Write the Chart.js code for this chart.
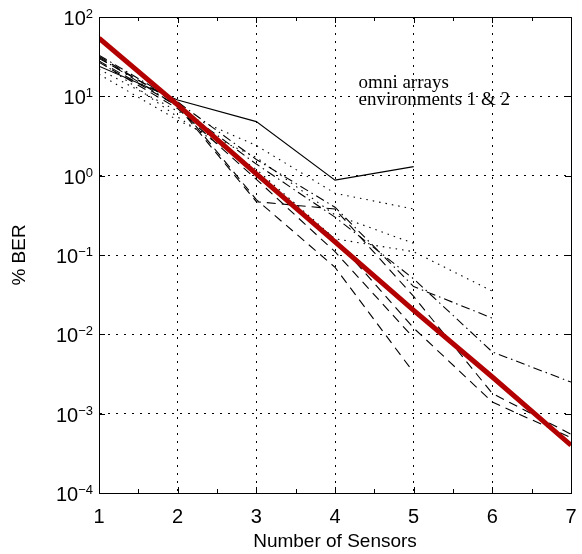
<!DOCTYPE html>
<html>
<head>
<meta charset="utf-8">
<script src="https://cdn.jsdelivr.net/npm/chart.js@4.4.0/dist/chart.umd.min.js"></script>
<style>
  html, body { margin: 0; padding: 0; background: #fff; }
</style>
</head>
<body>
<canvas id="berChart" width="582" height="554"></canvas>
<script>
// number of sensors along the x axis
var sensors = [1, 2, 3, 4, 5, 6, 7];

// decade exponents used for the y ticks (10^-4 .. 10^2)
var yExponents = [-4, -3, -2, -1, 0, 1, 2];

// fitted trend (thick red line)
var fitLine = [54, 7.8, 1.05, 0.146, 0.02, 0.0029, 0.0004];

// measured % BER curves, omni arrays, environments 1 & 2
var curveA = [24, 9, 4.8, 0.88, 1.3, null, null];
var curveB = [22, 6.5, 2.4, 0.6, 0.38, null, null];
var curveC = [19, 5, 1.7, 0.32, 0.14, null, null];
var curveD = [28, 5.5, 1.2, 0.16, 0.11, 0.035, null];
var curveE = [33, 8.5, 1.6, 0.4, 0.04, 0.016, null];
var curveF = [31, 7.5, 1.4, 0.3, 0.05, 0.006, 0.0025];
var curveG = [32, 8, 0.5, 0.07, 0.0033, null, null];
var curveH = [28, 7.5, 0.47, 0.38, 0.03, 0.0018, 0.00055];
var curveI = [30, 8.5, 1.0, 0.16, 0.012, 0.0014, 0.0005];
var curveJ = [27, 7, 0.9, 0.11, 0.009, null, null];

var noteLines = ["omni arrays", "environments 1 & 2"];

// line styles for the black curves (same order as the list below)
var DOT = [1.5, 5], DASH = [9, 6], DASHDOT = [9, 4, 1.5, 4];
var curves = [
    { data: curveA, dash: [] },
    { data: curveB, dash: DOT },
    { data: curveC, dash: DOT },
    { data: curveD, dash: DOT },
    { data: curveE, dash: DASHDOT },
    { data: curveF, dash: DASHDOT },
    { data: curveG, dash: DASH },
    { data: curveH, dash: DASH },
    { data: curveI, dash: DASH },
    { data: curveJ, dash: DASH }
];

function toPoints(values) {
    var pts = [];
    values.forEach(function (v, i) {
        if (v !== null) pts.push({ x: sensors[i], y: v });
    });
    return pts;
}

var datasets = [{
    data: toPoints(fitLine),
    borderColor: "#b30000",
    borderWidth: 5,
    pointRadius: 0,
    borderCapStyle: "butt"
}];
curves.forEach(function (c) {
    datasets.push({
        data: toPoints(c.data),
        borderColor: "#000",
        borderWidth: 1.1,
        borderDash: c.dash,
        pointRadius: 0
    });
});

var SANS = "'Liberation Sans', Arial, sans-serif";

// frame, inward ticks, superscript y labels and the text note
var decorations = {
    id: "decorations",
    afterDraw: function (chart) {
        var ctx = chart.ctx;
        var a = chart.chartArea;
        var xs = chart.scales.x, ys = chart.scales.y;
        ctx.save();
        ctx.strokeStyle = "#000";
        ctx.lineWidth = 1;
        ctx.setLineDash([]);
        ctx.strokeRect(a.left + 0.5, a.top + 0.5, a.right - a.left, a.bottom - a.top);

        ctx.beginPath();
        for (var s = sensors[0]; s <= sensors[sensors.length - 1]; s += 0.5) {
            var px = Math.round(xs.getPixelForValue(s)) + 0.5;
            var len = (s % 1 === 0) ? 6 : 4;
            ctx.moveTo(px, a.bottom); ctx.lineTo(px, a.bottom - len);
            ctx.moveTo(px, a.top); ctx.lineTo(px, a.top + len);
        }
        yExponents.forEach(function (e) {
            var py = Math.round(ys.getPixelForValue(Math.pow(10, e))) + 0.5;
            ctx.moveTo(a.left, py); ctx.lineTo(a.left + 6, py);
            ctx.moveTo(a.right, py); ctx.lineTo(a.right - 6, py);
        });
        ctx.stroke();

        ctx.fillStyle = "#000";
        ctx.textBaseline = "alphabetic";
        yExponents.forEach(function (e) {
            var py = ys.getPixelForValue(Math.pow(10, e));
            var exp = e < 0 ? "\u2212" + (-e) : String(e);
            ctx.font = "13px " + SANS;
            ctx.textAlign = "right";
            var right = a.left - 6;
            ctx.fillText(exp, right, py + 1);
            var w = ctx.measureText(exp).width;
            ctx.font = "20px " + SANS;
            ctx.fillText("10", right - w, py + 8);
        });

        ctx.font = "19px 'Liberation Serif', 'Times New Roman', serif";
        ctx.textAlign = "left";
        var nx = xs.getPixelForValue(4.3);
        var ny = ys.getPixelForValue(12.7);
        noteLines.forEach(function (t, i) {
            ctx.fillText(t, nx, ny + i * 17);
        });
        ctx.restore();
    }
};

new Chart(document.getElementById("berChart"), {
    type: "line",
    data: { datasets: datasets },
    options: {
        responsive: false,
        animation: false,
        devicePixelRatio: 1,
        layout: { padding: { top: 17, right: 11, left: 0, bottom: 0 } },
        plugins: { legend: { display: false }, tooltip: { enabled: false } },
        scales: {
            x: {
                type: "linear",
                min: 1,
                max: 7,
                afterFit: function (scale) {
                    scale.height = 61;
                    scale.paddingLeft = 0;
                    scale.paddingRight = 0;
                },
                ticks: {
                    stepSize: 1,
                    color: "#000",
                    padding: 12,
                    maxRotation: 0,
                    font: { family: SANS, size: 20 }
                },
                grid: { color: "#000", lineWidth: 1, drawTicks: false },
                border: { display: true, color: "#000", width: 1, dash: [2, 6] },
                title: {
                    display: true,
                    text: "Number of Sensors",
                    color: "#000",
                    font: { family: SANS, size: 19 },
                    padding: { top: 0, bottom: 1 }
                }
            },
            y: {
                type: "logarithmic",
                min: 1e-4,
                max: 1e2,
                afterBuildTicks: function (scale) {
                    scale.ticks = yExponents.map(function (e) { return { value: Math.pow(10, e) }; });
                },
                afterFit: function (scale) { scale.width = 99; },
                ticks: { display: false },
                grid: { color: "#000", lineWidth: 1, drawTicks: false },
                border: { display: true, color: "#000", width: 1, dash: [2, 6] },
                title: {
                    display: true,
                    text: "% BER",
                    color: "#000",
                    font: { family: SANS, size: 19 },
                    padding: { top: 8, bottom: 0 }
                }
            }
        }
    },
    plugins: [decorations]
});
</script>
</body>
</html>
